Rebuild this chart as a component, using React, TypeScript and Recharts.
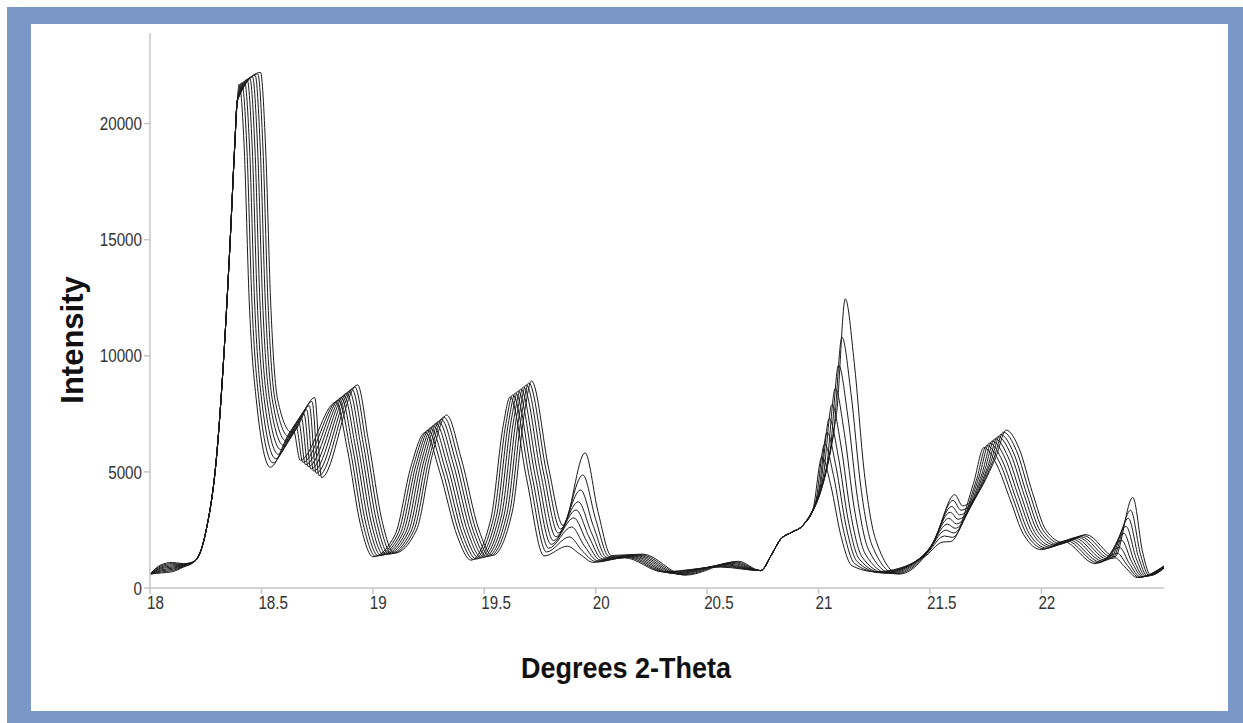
import { Line, LineChart, XAxis, YAxis } from "recharts";

type Pt = [number, number];

const xTicks = [18, 18.5, 19, 19.5, 20, 20.5, 21, 21.5, 22];
const yTicks = [0, 5000, 10000, 15000, 20000];

// rising edge of the 18.4 reflection, identical in every scan
const edge184: Pt[] = [[18.2, 1150], [18.25, 2400], [18.3, 5800], [18.33, 9800], [18.36, 15000], [18.38, 19000], [18.392, 21000]];
// shoulder in front of the 21.1 reflection, identical too
const shoulder209: Pt[] = [[20.74, 750], [20.79, 1450], [20.827, 2070], [20.88, 2400], [20.93, 2700]];

const scan1: Pt[] = [[18, 600], [18.05, 650], [18.1, 700], [18.15, 900], ...edge184,
  [18.4, 21700], [18.423, 18900], [18.445, 12400], [18.477, 8100], [18.54, 5200], [18.643, 6800], [18.674, 5500], [18.835, 8000], [18.885, 6000], [18.945, 2700], [19, 1350], [19.1, 2300], [19.17, 5200], [19.235, 6700], [19.3, 5000], [19.38, 2200], [19.44, 1200], [19.53, 3000], [19.585, 7000], [19.616, 8230], [19.69, 4700], [19.768, 1380], [19.872, 1800], [19.93, 1450], [19.99, 1100], [20.13, 1300], [20.3, 700], [20.56, 900],
  ...shoulder209,
  [20.975, 3390], [21.015, 5650], [21.055, 4410], [21.1, 2260], [21.15, 960], [21.255, 700], [21.47, 1300], [21.558, 1980], [21.593, 2000], [21.695, 4500], [21.742, 6050], [21.8, 5300], [21.86, 3800], [21.92, 2300], [22, 1650], [22.1, 2000], [22.24, 1050], [22.33, 1300], [22.375, 900], [22.43, 450], [22.55, 950]];

const scan2: Pt[] = [[18, 600], [18.05, 690], [18.1, 750], [18.15, 920], ...edge184,
  [18.412, 21760], [18.435, 18900], [18.457, 12400], [18.489, 8100], [18.552, 5390], [18.655, 6980], [18.686, 5410], [18.847, 8090], [18.897, 6040], [18.957, 2730], [19.012, 1370], [19.112, 2330], [19.182, 5260], [19.247, 6790], [19.312, 5080], [19.392, 2240], [19.452, 1230], [19.542, 3040], [19.597, 7080], [19.628, 8320], [19.703, 4750], [19.779, 1550], [19.882, 2200], [19.94, 1600], [20, 1140], [20.14, 1320], [20.313, 680], [20.57, 930],
  ...shoulder209,
  [20.987, 3720], [21.027, 6200], [21.067, 4840], [21.112, 2480], [21.162, 1050], [21.267, 680], [21.476, 1390], [21.565, 2240], [21.6, 2180], [21.708, 4640], [21.755, 6140], [21.813, 5390], [21.873, 3840], [21.933, 2330], [22.013, 1690], [22.113, 2040], [22.251, 1090], [22.34, 1500], [22.385, 980], [22.438, 460], [22.55, 940]];

const scan3: Pt[] = [[18, 600], [18.05, 740], [18.1, 800], [18.15, 940], ...edge184,
  [18.424, 21820], [18.447, 18900], [18.469, 12400], [18.501, 8100], [18.564, 5570], [18.667, 7150], [18.698, 5310], [18.859, 8190], [18.909, 6070], [18.969, 2750], [19.024, 1390], [19.124, 2350], [19.194, 5320], [19.259, 6890], [19.324, 5150], [19.404, 2270], [19.464, 1250], [19.554, 3070], [19.609, 7150], [19.64, 8400], [19.715, 4800], [19.789, 1710], [19.892, 2630], [19.95, 1800], [20.01, 1170], [20.15, 1340], [20.325, 660], [20.58, 960],
  ...shoulder209,
  [20.998, 4020], [21.038, 6700], [21.078, 5230], [21.123, 2680], [21.173, 1140], [21.278, 660], [21.482, 1480], [21.571, 2490], [21.606, 2370], [21.72, 4780], [21.767, 6240], [21.825, 5470], [21.885, 3870], [21.945, 2350], [22.025, 1720], [22.125, 2070], [22.263, 1120], [22.35, 1750], [22.395, 1050], [22.445, 470], [22.55, 930]];

const scan4: Pt[] = [[18, 600], [18.05, 780], [18.1, 850], [18.15, 960], ...edge184,
  [18.436, 21890], [18.459, 18900], [18.481, 12400], [18.513, 8100], [18.576, 5760], [18.679, 7330], [18.71, 5220], [18.871, 8280], [18.921, 6110], [18.981, 2780], [19.036, 1410], [19.136, 2380], [19.206, 5390], [19.271, 6980], [19.336, 5230], [19.416, 2310], [19.476, 1280], [19.566, 3110], [19.621, 7230], [19.652, 8490], [19.728, 4850], [19.8, 1880], [19.902, 3020], [19.96, 2000], [20.02, 1210], [20.16, 1360], [20.338, 640], [20.59, 990],
  ...shoulder209,
  [21.008, 4380], [21.048, 7300], [21.088, 5690], [21.133, 2920], [21.183, 1240], [21.288, 650], [21.488, 1560], [21.578, 2750], [21.613, 2570], [21.733, 4920], [21.78, 6330], [21.838, 5560], [21.898, 3910], [21.958, 2380], [22.038, 1760], [22.138, 2110], [22.274, 1160], [22.36, 2050], [22.405, 1130], [22.453, 490], [22.55, 920]];

const scan5: Pt[] = [[18, 600], [18.05, 830], [18.1, 900], [18.15, 970], ...edge184,
  [18.448, 21950], [18.471, 18900], [18.493, 12400], [18.525, 8100], [18.588, 5950], [18.691, 7500], [18.722, 5120], [18.883, 8380], [18.933, 6150], [18.993, 2800], [19.048, 1430], [19.148, 2400], [19.218, 5450], [19.283, 7080], [19.348, 5300], [19.428, 2350], [19.488, 1300], [19.578, 3150], [19.633, 7300], [19.664, 8570], [19.74, 4900], [19.81, 2040], [19.912, 3360], [19.97, 2200], [20.03, 1250], [20.17, 1380], [20.35, 620], [20.6, 1020],
  ...shoulder209,
  [21.02, 4740], [21.06, 7900], [21.1, 6160], [21.145, 3160], [21.195, 1340], [21.3, 640], [21.494, 1650], [21.584, 3000], [21.619, 2760], [21.745, 5060], [21.792, 6430], [21.85, 5650], [21.91, 3950], [21.97, 2400], [22.05, 1800], [22.15, 2150], [22.285, 1200], [22.37, 2350], [22.415, 1200], [22.46, 500], [22.55, 900]];

const scan6: Pt[] = [[18, 600], [18.05, 870], [18.1, 950], [18.15, 990], ...edge184,
  [18.46, 22010], [18.483, 18900], [18.505, 12400], [18.537, 8100], [18.6, 6140], [18.703, 7680], [18.734, 5030], [18.895, 8470], [18.945, 6190], [19.005, 2830], [19.06, 1450], [19.16, 2430], [19.23, 5510], [19.295, 7170], [19.36, 5380], [19.44, 2390], [19.5, 1330], [19.59, 3190], [19.645, 7380], [19.676, 8660], [19.753, 4950], [19.821, 2210], [19.922, 3710], [19.98, 2400], [20.04, 1290], [20.18, 1400], [20.363, 610], [20.61, 1060],
  ...shoulder209,
  [21.035, 5160], [21.075, 8600], [21.115, 6710], [21.16, 3440], [21.21, 1460], [21.315, 630], [21.5, 1740], [21.591, 3260], [21.626, 2960], [21.758, 5200], [21.805, 6520], [21.863, 5740], [21.923, 3990], [21.983, 2430], [22.063, 1840], [22.163, 2190], [22.296, 1240], [22.38, 2650], [22.425, 1280], [22.468, 510], [22.55, 890]];

const scan7: Pt[] = [[18, 600], [18.05, 910], [18.1, 1000], [18.15, 1010], ...edge184,
  [18.472, 22070], [18.495, 18900], [18.517, 12400], [18.549, 8100], [18.612, 6320], [18.715, 7850], [18.746, 4940], [18.907, 8560], [18.957, 6220], [19.017, 2850], [19.072, 1460], [19.172, 2450], [19.242, 5570], [19.307, 7260], [19.372, 5450], [19.452, 2420], [19.512, 1350], [19.602, 3220], [19.657, 7450], [19.688, 8750], [19.765, 5000], [19.832, 2370], [19.932, 4220], [19.99, 2650], [20.05, 1320], [20.19, 1420], [20.375, 590], [20.62, 1090],
  ...shoulder209,
  [21.05, 5760], [21.09, 9600], [21.13, 7490], [21.175, 3840], [21.225, 1630], [21.33, 620], [21.506, 1830], [21.598, 3510], [21.633, 3150], [21.77, 5340], [21.817, 6610], [21.875, 5820], [21.935, 4020], [21.995, 2450], [22.075, 1870], [22.175, 2220], [22.308, 1270], [22.39, 3000], [22.435, 1350], [22.475, 520], [22.55, 880]];

const scan8: Pt[] = [[18, 600], [18.05, 960], [18.1, 1050], [18.15, 1030], ...edge184,
  [18.484, 22130], [18.507, 18900], [18.529, 12400], [18.561, 8100], [18.624, 6510], [18.727, 8030], [18.758, 4840], [18.919, 8660], [18.969, 6260], [19.029, 2880], [19.084, 1480], [19.184, 2480], [19.254, 5630], [19.319, 7360], [19.384, 5530], [19.464, 2460], [19.524, 1380], [19.614, 3260], [19.669, 7530], [19.7, 8830], [19.778, 5050], [19.842, 2540], [19.942, 4870], [20, 2950], [20.06, 1360], [20.2, 1440], [20.388, 570], [20.63, 1120],
  ...shoulder209,
  [21.065, 6480], [21.105, 10800], [21.145, 8420], [21.19, 4320], [21.24, 1840], [21.345, 610], [21.512, 1920], [21.604, 3770], [21.639, 3350], [21.783, 5480], [21.83, 6710], [21.888, 5910], [21.948, 4060], [22.008, 2480], [22.088, 1910], [22.188, 2260], [22.319, 1310], [22.4, 3350], [22.445, 1430], [22.483, 530], [22.55, 860]];

const scan9: Pt[] = [[18, 600], [18.05, 1000], [18.1, 1100], [18.15, 1050], ...edge184,
  [18.496, 22200], [18.519, 18900], [18.541, 12400], [18.573, 8100], [18.636, 6700], [18.739, 8200], [18.77, 4750], [18.931, 8750], [18.981, 6300], [19.041, 2900], [19.096, 1500], [19.196, 2500], [19.266, 5700], [19.331, 7450], [19.396, 5600], [19.476, 2500], [19.536, 1400], [19.626, 3300], [19.681, 7600], [19.712, 8920], [19.79, 5100], [19.853, 2700], [19.952, 5820], [20.01, 3300], [20.07, 1400], [20.21, 1460], [20.4, 550], [20.64, 1150],
  ...shoulder209,
  [21.08, 7470], [21.12, 12450], [21.16, 9710], [21.205, 4980], [21.255, 2120], [21.36, 600], [21.518, 2000], [21.611, 4020], [21.646, 3540], [21.795, 5620], [21.842, 6800], [21.9, 6000], [21.96, 4100], [22.02, 2500], [22.1, 1950], [22.2, 2300], [22.33, 1350], [22.41, 3900], [22.455, 1500], [22.49, 550], [22.55, 850]];

const scans = [scan1, scan2, scan3, scan4, scan5, scan6, scan7, scan8, scan9];

const tickFont = "'Liberation Sans', Arial, sans-serif";

function XTick({ x, y, payload }: any) {
  return (
    <g transform={`translate(${x - 3},${y})`}>
      <text transform="scale(0.8,1)" textAnchor="start" dy="0.71em" fill="#333" fontSize={19} fontFamily={tickFont}>
        {payload.value}
      </text>
    </g>
  );
}

function YTick({ x, y, payload }: any) {
  return (
    <g transform={`translate(${x},${y})`}>
      <text transform="scale(0.8,1)" textAnchor="end" dy="0.35em" fill="#333" fontSize={19} fontFamily={tickFont}>
        {payload.value}
      </text>
    </g>
  );
}

const titleStyle = {
  position: "absolute" as const,
  fontFamily: tickFont,
  fontWeight: 700,
  color: "#111",
  whiteSpace: "nowrap" as const,
  lineHeight: 1
};

export default function App() {
  return (
    <div style={{ position: "absolute", left: 0, top: 0, width: 1243, height: 723, background: "#fff", overflow: "hidden" }}>
      <div style={{ position: "absolute", left: 7, top: 7, width: 1236, height: 716, background: "#7b97c7" }} />
      <div style={{ position: "absolute", left: 31, top: 24, width: 1197, height: 687, background: "#fff" }} />

      <div style={{ position: "absolute", left: 0, top: 0 }}>
        <LineChart width={1243} height={723} margin={{ top: 33, right: 79, bottom: 105, left: 90 }}>
          <XAxis
            type="number"
            dataKey="theta"
            domain={[18, 22.55]}
            ticks={xTicks}
            height={30}
            stroke="#c6c6c6"
            strokeWidth={1.5}
            tickSize={6}
            tick={<XTick />}
            allowDataOverflow
          />
          <YAxis
            type="number"
            domain={[0, 23900]}
            ticks={yTicks}
            width={60}
            stroke="#c6c6c6"
            strokeWidth={1.5}
            tickSize={6}
            tick={<YTick />}
            allowDataOverflow
          />
          {scans.map((scan, i) => (
            <Line
              key={i}
              data={scan.map(([theta, counts]) => ({ theta, counts }))}
              dataKey="counts"
              type="monotone"
              stroke="#1a1a1a"
              strokeWidth={1}
              dot={false}
              activeDot={false}
              isAnimationActive={false}
            />
          ))}
        </LineChart>
      </div>

      <div style={{ ...titleStyle, left: 72, top: 340, fontSize: 31, transform: "translate(-50%, -50%) rotate(-90deg)" }}>
        Intensity
      </div>
      <div style={{ ...titleStyle, left: 626, top: 668, fontSize: 30, transform: "translate(-50%, -50%) scaleX(0.9)" }}>
        Degrees 2-Theta
      </div>
    </div>
  );
}
